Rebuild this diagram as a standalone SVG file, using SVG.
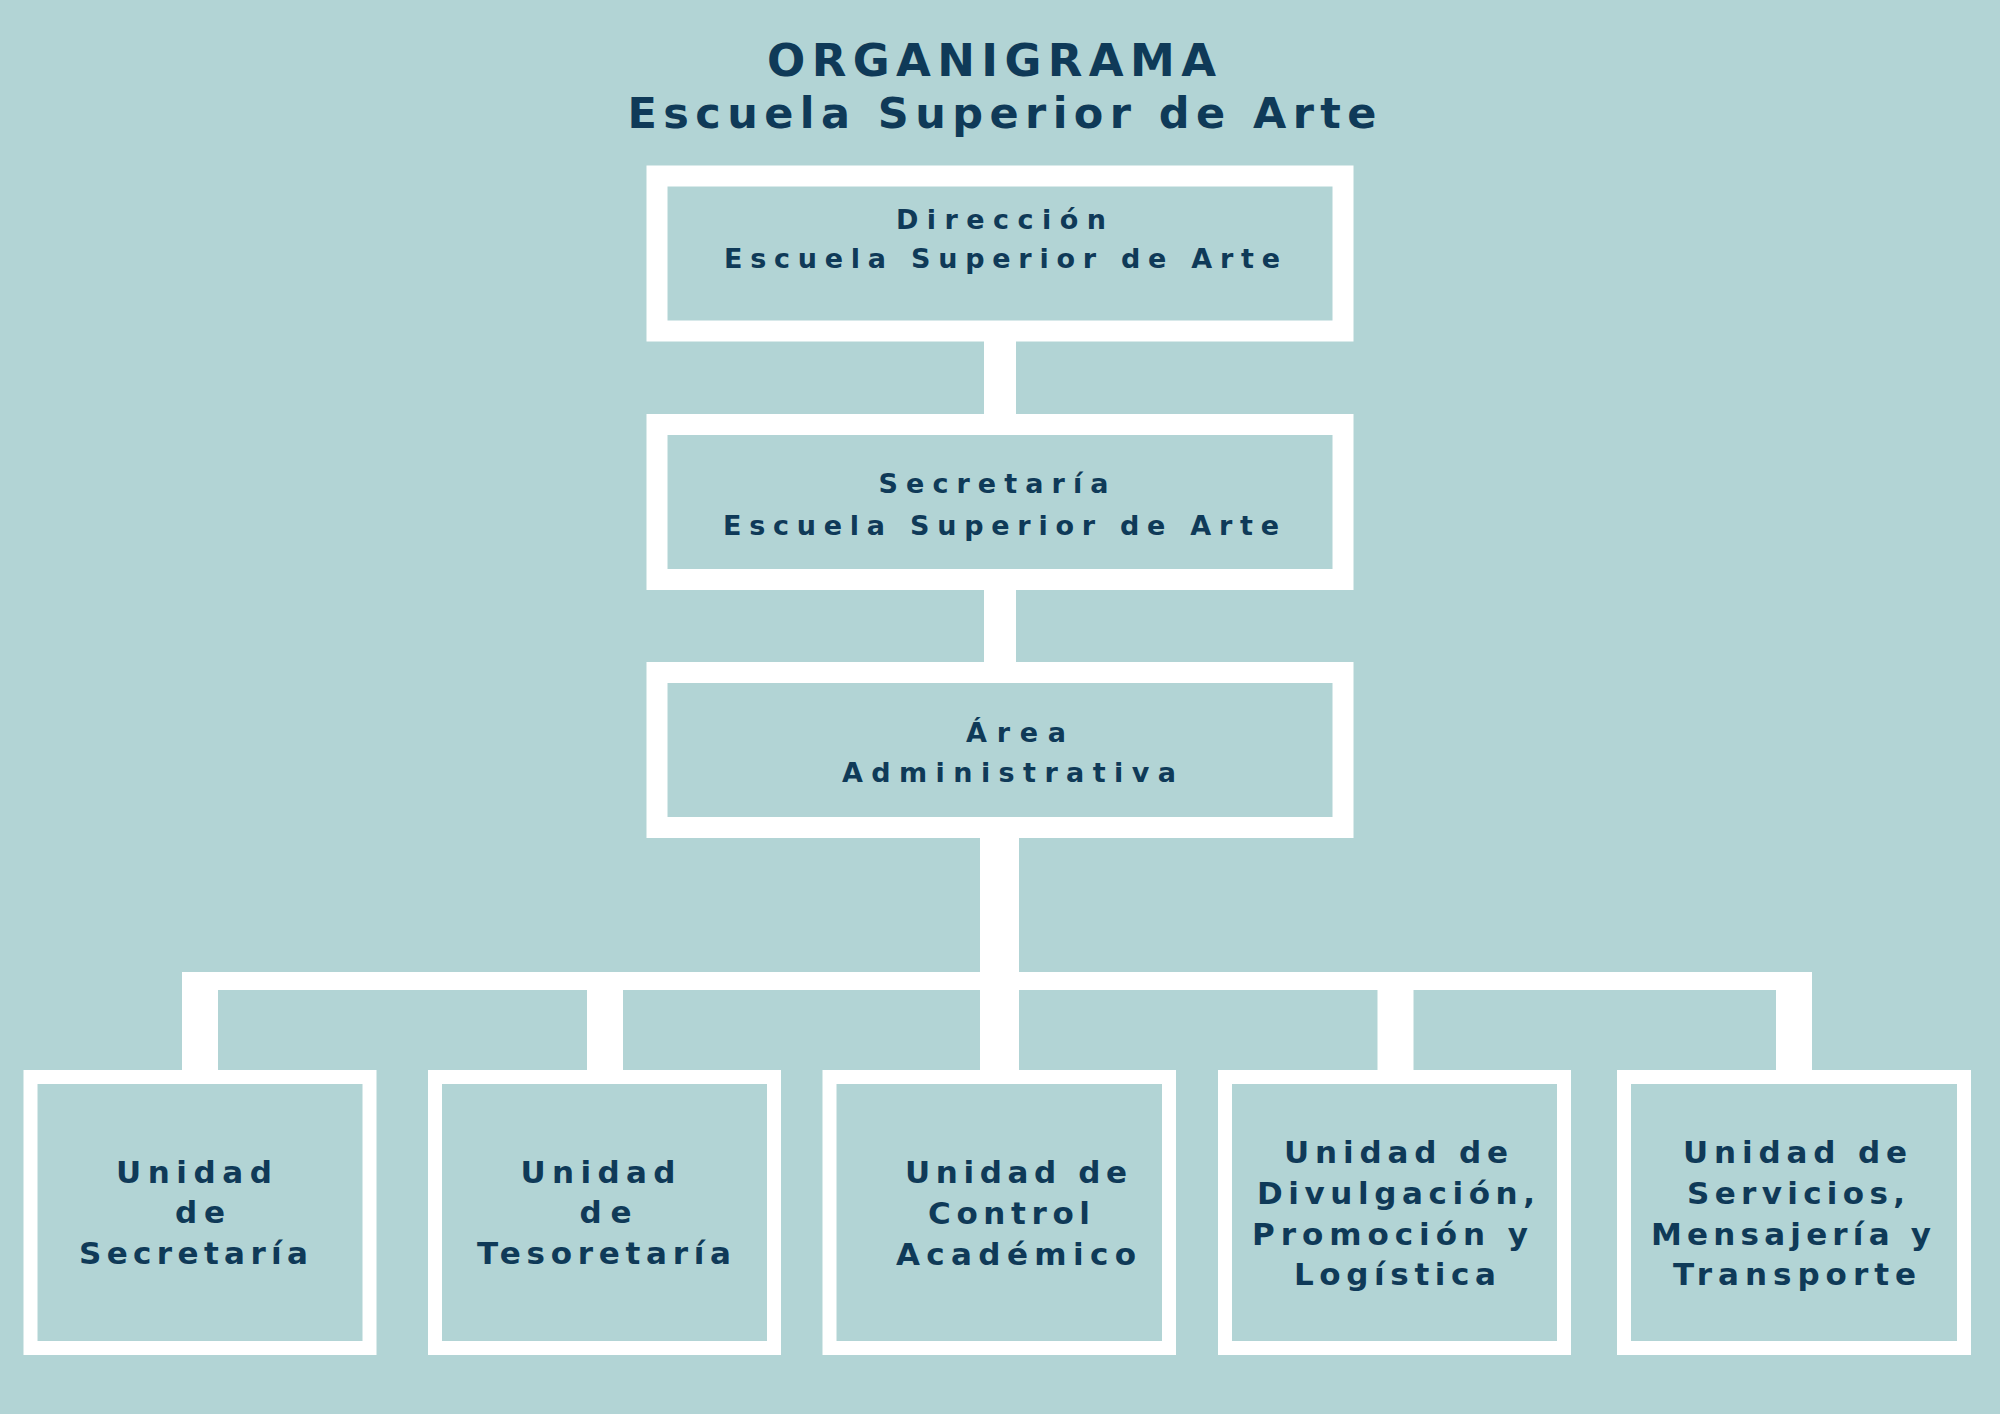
<svg xmlns="http://www.w3.org/2000/svg" width="2000" height="1414" viewBox="0 0 2000 1414">
<style>
  .bg{fill:#b2d4d5}
  .box{fill:#b2d4d5;stroke:#ffffff}
  .big{stroke-width:21}
  .small{stroke-width:14}
  .wire{fill:#ffffff}
  text{font-family:"DejaVu Sans","Liberation Sans",sans-serif;font-weight:700;fill:#0f3a58;text-anchor:middle}
  .t1{font-size:45px}
  .t2{font-size:43px}
  .tm{font-size:27px}
  .tb{font-size:31px}
</style>
<rect class="bg" x="0" y="0" width="2000" height="1414"/>
<g id="title">
  <text class="t1" x="991.5" y="76" textLength="449" lengthAdjust="spacing">ORGANIGRAMA</text>
  <text class="t2" x="1002" y="128" textLength="749" lengthAdjust="spacing">Escuela Superior de Arte</text>
</g>
<g id="connectors">
  <rect class="wire" x="984" y="340" width="32" height="76"/>
  <rect class="wire" x="984" y="588" width="32" height="76"/>
  <rect class="wire" x="980" y="836" width="39" height="236"/>
  <rect class="wire" x="182" y="972" width="1630" height="18"/>
  <rect class="wire" x="182" y="972" width="36" height="100"/>
  <rect class="wire" x="587" y="972" width="36" height="100"/>
  <rect class="wire" x="1377.5" y="972" width="36" height="100"/>
  <rect class="wire" x="1776" y="972" width="36" height="100"/>
</g>
<g id="direccion">
  <rect class="box big" x="657" y="176" width="686" height="155"/>
  <text class="tm" x="1001" y="229" textLength="210" lengthAdjust="spacing">Dirección</text>
  <text class="tm" x="1002" y="268" textLength="556" lengthAdjust="spacing">Escuela Superior de Arte</text>
</g>
<g id="secretaria">
  <rect class="box big" x="657" y="424.5" width="686" height="155"/>
  <text class="tm" x="993.5" y="493" textLength="230" lengthAdjust="spacing">Secretaría</text>
  <text class="tm" x="1001" y="535" textLength="556" lengthAdjust="spacing">Escuela Superior de Arte</text>
</g>
<g id="area">
  <rect class="box big" x="657" y="672.5" width="686" height="155"/>
  <text class="tm" x="1016" y="742" textLength="100" lengthAdjust="spacing">Área</text>
  <text class="tm" x="1009" y="782" textLength="334" lengthAdjust="spacing">Administrativa</text>
</g>
<g id="unidad-secretaria">
  <rect class="box small" x="30.5" y="1077" width="339" height="271"/>
  <text class="tb" x="194" y="1182.5" textLength="156" lengthAdjust="spacing">Unidad</text>
  <text class="tb" x="200" y="1223" textLength="50" lengthAdjust="spacing">de</text>
  <text class="tb" x="193.5" y="1264" textLength="229" lengthAdjust="spacing">Secretaría</text>
</g>
<g id="unidad-tesoretaria">
  <rect class="box small" x="435" y="1077" width="339" height="271"/>
  <text class="tb" x="598" y="1182.5" textLength="155" lengthAdjust="spacing">Unidad</text>
  <text class="tb" x="605.5" y="1223" textLength="52" lengthAdjust="spacing">de</text>
  <text class="tb" x="604" y="1264" textLength="254" lengthAdjust="spacing">Tesoretaría</text>
</g>
<g id="unidad-control">
  <rect class="box small" x="829.5" y="1077" width="339.5" height="271"/>
  <text class="tb" x="1016" y="1182.5" textLength="222" lengthAdjust="spacing">Unidad de</text>
  <text class="tb" x="1009" y="1224" textLength="162" lengthAdjust="spacing">Control</text>
  <text class="tb" x="1016" y="1265" textLength="240" lengthAdjust="spacing">Académico</text>
</g>
<g id="unidad-divulgacion">
  <rect class="box small" x="1225" y="1077" width="339" height="271"/>
  <text class="tb" x="1396" y="1163" textLength="224" lengthAdjust="spacing">Unidad de</text>
  <text class="tb" x="1396" y="1204" textLength="278" lengthAdjust="spacing">Divulgación,</text>
  <text class="tb" x="1390" y="1244.5" textLength="276" lengthAdjust="spacing">Promoción y</text>
  <text class="tb" x="1395" y="1285" textLength="202" lengthAdjust="spacing">Logística</text>
</g>
<g id="unidad-servicios">
  <rect class="box small" x="1624" y="1077" width="340" height="271"/>
  <text class="tb" x="1795" y="1163" textLength="224" lengthAdjust="spacing">Unidad de</text>
  <text class="tb" x="1796" y="1204" textLength="218" lengthAdjust="spacing">Servicios,</text>
  <text class="tb" x="1791" y="1244.5" textLength="280" lengthAdjust="spacing">Mensajería y</text>
  <text class="tb" x="1794.5" y="1285" textLength="243" lengthAdjust="spacing">Transporte</text>
</g>
</svg>
